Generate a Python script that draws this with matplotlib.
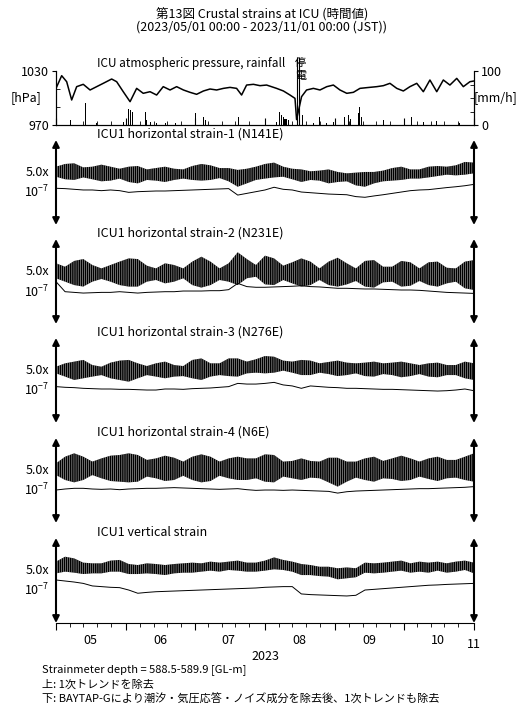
import matplotlib
matplotlib.use('Agg')
import matplotlib.pyplot as plt
import matplotlib.dates as mdates
import numpy as np

plt.rcParams['font.family'] = ['Noto Sans CJK JP', 'DejaVu Sans']
plt.rcParams['mathtext.fontset'] = 'custom'
plt.rcParams['mathtext.rm'] = 'Noto Sans CJK JP'
plt.rcParams['mathtext.default'] = 'rm'
plt.rcParams['hatch.linewidth'] = 0.3

START = np.datetime64('2023-05-01T00:00')
END = np.datetime64('2023-11-01T00:00')

# ---- atmospheric pressure [hPa] and rainfall [mm/h], days from 2023/05/01
pressure_days = [0, 2.5, 4.7, 6.9, 9.1, 12.0, 15.0, 17.9, 20.8, 24.5, 26.7, 29.6, 32.6, 35.5, 38.4,
                 41.4, 44.3, 47.2, 50.2, 53.1, 56.1, 59.0, 61.9, 64.9, 67.8, 70.7, 73.7, 76.6, 79.5,
                 81.7, 83.9, 86.9, 89.8, 92.7, 97.1, 100.1, 103.0, 105.2, 105.9, 108.1, 110.3, 113.3,
                 116.2, 119.2, 122.1, 125.0, 128.0, 130.9, 133.8, 136.8, 141.2, 144.1, 147.0, 150.0,
                 152.9, 155.8, 158.8, 161.7, 164.6, 167.6, 170.5, 173.4, 176.4, 179.3, 182.2, 184.0]
pressure_hpa = [1010.7, 1024.8, 1018.1, 997.8, 1012.6, 1015.2, 1008.9, 1012.6, 1016.3, 1021.1,
                1018.1, 1007.0, 995.9, 1010.7, 1005.2, 1007.0, 1003.3, 1012.6, 1008.9, 1012.6,
                1008.9, 1006.3, 1004.1, 1007.8, 1010.0, 1008.9, 1010.7, 1011.8, 1010.7, 1003.3,
                1014.4, 1015.2, 1013.7, 1014.4, 1010.7, 1007.8, 1003.3, 999.6, 976.0, 1001.5,
                1008.9, 1010.7, 1008.9, 1012.6, 1014.4, 1008.9, 1005.2, 1006.3, 1010.7, 1011.5,
                1012.6, 1013.7, 1016.3, 1010.7, 1007.8, 1012.6, 1016.3, 1007.0, 1020.0, 1007.0,
                1020.0, 1014.4, 1021.8, 1012.6, 1018.1, 1018.9]

rain_days = [6.5, 12.8, 13.2, 17.9, 29.6, 32.1, 32.9, 33.5, 39.2, 39.9, 41.4, 44.3, 48.0, 52.4,
             61.2, 64.8, 65.6, 80.3, 97.1, 98.3, 99.3, 100.1, 100.8, 101.5, 102.3, 106.2, 108.6,
             113.3, 116.2, 119.1, 122.1, 127.2, 128.7, 129.7, 133.1, 133.8, 134.5, 144.1, 156.5,
             161.7, 167.6, 177.8]
rain_mm = [9, 18, 40, 3, 6, 30, 28, 25, 25, 9, 6, 4, 4, 3, 23, 14, 9, 15, 6, 25, 18, 15, 12, 11, 9,
           22, 18, 3, 14, 4, 6, 15, 18, 12, 23, 34, 15, 9, 14, 6, 7, 3]

outage_days = [105.9, 107.1]

# ---- strain records (units of 1e-7), sampled every 4 days from 2023/05/01
strain_days = list(range(0, 185, 4))

s1_upper = [3.43, 3.59, 3.63, 3.39, 3.43, 3.55, 3.43, 3.31, 3.43, 3.47, 3.27, 3.35, 3.43, 3.31, 3.27, 3.47,
            3.59, 3.51, 3.35, 3.35, 3.24, 3.31, 3.43, 3.59, 3.67, 3.43, 3.31, 3.27, 3.16, 3.20, 3.27, 3.12,
            3.04, 3.08, 3.12, 3.12, 3.20, 3.35, 3.43, 3.27, 3.27, 3.43, 3.47, 3.43, 3.51, 3.71, 3.67]
s1_lower = [2.84, 2.69, 2.65, 2.80, 2.69, 2.57, 2.61, 2.73, 2.53, 2.45, 2.65, 2.61, 2.53, 2.65, 2.73, 2.65,
            2.61, 2.65, 2.76, 2.57, 2.25, 2.45, 2.65, 2.73, 2.80, 2.84, 2.69, 2.53, 2.65, 2.61, 2.45, 2.53,
            2.57, 2.33, 2.25, 2.45, 2.57, 2.61, 2.65, 2.73, 2.73, 2.80, 2.88, 2.96, 2.92, 2.96, 3.04]
s1_resid = [2.16, 2.14, 2.10, 2.06, 2.06, 2.02, 2.06, 2.02, 1.92, 1.96, 1.98, 2.00, 2.00, 2.02, 2.04, 2.06,
            2.08, 2.10, 2.12, 2.14, 1.76, 1.86, 1.96, 2.06, 2.22, 2.10, 2.06, 1.94, 1.90, 1.86, 1.82, 1.80,
            1.78, 1.67, 1.63, 1.71, 1.78, 1.86, 1.94, 2.02, 2.06, 2.08, 2.14, 2.20, 2.25, 2.31, 2.39]

s2_upper = [3.57, 3.37, 3.71, 3.82, 3.47, 3.27, 3.47, 3.67, 3.86, 3.82, 3.43, 3.27, 3.57, 3.47, 3.27, 3.67,
            3.96, 3.67, 3.27, 3.57, 4.22, 3.82, 3.47, 4.02, 3.86, 3.43, 3.63, 3.86, 3.67, 3.27, 3.67, 3.90,
            3.57, 3.27, 3.71, 3.76, 3.37, 3.37, 3.71, 3.63, 3.27, 3.63, 3.67, 3.31, 3.27, 3.67, 3.76]
s2_lower = [2.69, 2.49, 2.29, 2.20, 2.49, 2.65, 2.49, 2.29, 2.20, 2.20, 2.49, 2.59, 2.39, 2.49, 2.69, 2.29,
            2.14, 2.29, 2.59, 2.49, 2.29, 2.69, 2.78, 2.33, 2.29, 2.59, 2.39, 2.20, 2.29, 2.59, 2.29, 2.20,
            2.33, 2.53, 2.20, 2.14, 2.45, 2.49, 2.20, 2.25, 2.53, 2.29, 2.20, 2.39, 2.49, 2.10, 2.00]
s2_resid = [2.49, 1.90, 1.86, 1.82, 1.84, 1.86, 1.86, 1.90, 1.86, 1.82, 1.86, 1.88, 1.90, 1.90, 1.94, 1.94,
            1.94, 1.96, 1.96, 2.02, 2.39, 2.20, 2.16, 2.16, 2.18, 2.20, 2.22, 2.25, 2.20, 2.18, 2.14, 2.10,
            2.10, 2.08, 2.06, 2.06, 2.04, 2.02, 2.00, 2.00, 1.98, 1.94, 1.90, 1.86, 1.84, 1.82, 1.80]

s3_upper = [3.31, 3.51, 3.61, 3.71, 3.41, 3.31, 3.55, 3.67, 3.71, 3.51, 3.35, 3.51, 3.61, 3.41, 3.35, 3.71,
            3.80, 3.51, 3.51, 3.80, 3.80, 3.61, 3.75, 3.94, 3.90, 3.67, 3.61, 3.71, 3.67, 3.51, 3.59, 3.67,
            3.55, 3.51, 3.55, 3.61, 3.51, 3.55, 3.61, 3.51, 3.41, 3.51, 3.55, 3.41, 3.41, 3.61, 3.51]
s3_lower = [2.92, 2.73, 2.53, 2.63, 2.73, 2.82, 2.63, 2.53, 2.43, 2.63, 2.82, 2.73, 2.63, 2.73, 2.76, 2.63,
            2.53, 2.73, 2.82, 2.76, 2.73, 2.92, 2.96, 2.92, 2.96, 3.08, 2.96, 2.82, 2.82, 2.96, 2.88, 2.76,
            2.82, 2.92, 2.76, 2.73, 2.88, 2.82, 2.69, 2.76, 2.88, 2.73, 2.69, 2.82, 2.82, 2.63, 2.53]
s3_resid = [2.14, 2.10, 2.08, 2.04, 2.02, 2.00, 2.00, 1.98, 1.98, 1.96, 1.94, 1.94, 2.00, 2.00, 1.98, 2.02,
            2.04, 2.06, 2.10, 2.14, 2.33, 2.29, 2.29, 2.33, 2.39, 2.24, 2.18, 2.04, 2.18, 2.14, 2.10, 2.08,
            2.04, 2.04, 2.02, 2.00, 1.98, 1.98, 1.96, 1.94, 1.92, 1.90, 1.88, 1.90, 1.94, 2.00, 1.90]

s4_upper = [3.51, 3.90, 4.10, 3.90, 3.61, 3.80, 3.96, 4.00, 4.10, 4.00, 3.71, 3.80, 3.96, 3.84, 3.61, 3.90,
            4.04, 3.90, 3.61, 3.80, 3.90, 3.80, 3.80, 4.04, 4.00, 3.61, 3.65, 3.80, 3.65, 3.61, 3.84, 3.84,
            3.61, 3.61, 3.80, 3.90, 3.65, 3.80, 3.96, 3.80, 3.61, 3.80, 3.90, 3.71, 3.71, 3.90, 4.10]
s4_lower = [2.82, 2.53, 2.39, 2.53, 2.82, 2.63, 2.47, 2.43, 2.39, 2.43, 2.73, 2.63, 2.47, 2.53, 2.78, 2.53,
            2.39, 2.47, 2.78, 2.63, 2.53, 2.53, 2.63, 2.43, 2.39, 2.73, 2.63, 2.53, 2.67, 2.63, 2.39, 2.14,
            2.43, 2.67, 2.53, 2.43, 2.63, 2.59, 2.47, 2.53, 2.73, 2.59, 2.47, 2.63, 2.67, 2.53, 2.43]
s4_resid = [1.94, 2.00, 2.04, 2.04, 2.00, 1.98, 2.00, 1.96, 2.00, 2.02, 2.04, 2.04, 2.06, 2.08, 2.06, 2.04,
            2.02, 2.00, 1.98, 2.00, 2.02, 1.96, 1.92, 1.94, 1.94, 1.92, 1.94, 1.92, 1.90, 1.88, 1.86, 1.76,
            1.84, 1.88, 1.90, 1.92, 1.94, 1.96, 1.98, 2.00, 2.02, 2.02, 2.04, 2.06, 2.08, 2.10, 2.14]

s5_upper = [3.61, 3.90, 3.80, 3.55, 3.51, 3.51, 3.67, 3.71, 3.47, 3.41, 3.51, 3.47, 3.41, 3.47, 3.51, 3.55,
            3.51, 3.61, 3.55, 3.61, 3.67, 3.55, 3.55, 3.67, 3.86, 3.71, 3.61, 3.47, 3.41, 3.31, 3.31, 3.22,
            3.27, 3.22, 3.55, 3.51, 3.55, 3.61, 3.67, 3.51, 3.61, 3.55, 3.61, 3.51, 3.61, 3.67, 3.55]
s5_lower = [2.92, 3.02, 2.96, 2.88, 2.92, 2.92, 3.02, 3.02, 2.88, 2.88, 2.92, 2.88, 2.82, 2.92, 2.96, 2.96,
            3.02, 3.08, 3.02, 3.12, 3.08, 3.02, 3.02, 3.08, 3.16, 3.12, 3.02, 2.82, 2.82, 2.76, 2.73, 2.57,
            2.63, 2.69, 2.96, 2.92, 2.96, 3.02, 3.08, 2.96, 3.02, 2.96, 3.08, 2.96, 3.02, 3.12, 2.92]
s5_resid = [2.53, 2.47, 2.41, 2.33, 2.18, 2.14, 2.10, 2.08, 1.94, 1.75, 1.80, 1.84, 1.86, 1.88, 1.90, 1.92,
            1.94, 1.96, 1.98, 2.00, 2.02, 2.04, 2.06, 2.10, 2.12, 2.14, 2.14, 1.71, 1.67, 1.65, 1.63, 1.61,
            1.59, 1.63, 1.94, 1.98, 2.02, 2.06, 2.10, 2.14, 2.18, 2.22, 2.24, 2.27, 2.29, 2.31, 2.33]

strain_titles = ['ICU1 horizontal strain-1 (N141E)', 'ICU1 horizontal strain-2 (N231E)',
                 'ICU1 horizontal strain-3 (N276E)', 'ICU1 horizontal strain-4 (N6E)',
                 'ICU1 vertical strain']
strain_sets = [(s1_upper, s1_lower, s1_resid), (s2_upper, s2_lower, s2_resid),
               (s3_upper, s3_lower, s3_resid), (s4_upper, s4_lower, s4_resid),
               (s5_upper, s5_lower, s5_resid)]
scale_span = 5.0  # arrow length = 5.0x10^-7

month_labels = ['05', '06', '07', '08', '09', '10']
month_label_dates = ['2023-05-16', '2023-06-16', '2023-07-16', '2023-08-16', '2023-09-16', '2023-10-16']


def to_time(days):
    return START + (np.asarray(days) * 1440).astype(int).astype('timedelta64[m]')


W, H = 524, 707
fig = plt.figure(figsize=(W / 100, H / 100), dpi=100)


def px_axes(left, top, right, bottom):
    return fig.add_axes([left / W, 1 - bottom / H, (right - left) / W, (bottom - top) / H])


def month_ticks(ax, direction):
    ax.xaxis.set_major_locator(mdates.MonthLocator())
    ax.xaxis.set_minor_locator(mdates.DayLocator(bymonthday=[7, 13, 19, 25]))
    ax.tick_params(axis='x', which='major', direction=direction, length=5, width=0.8)
    ax.tick_params(axis='x', which='minor', direction=direction, length=3, width=0.6)


fig.text(0.5, 1 - 15 / H, '第13図 Crustal strains at ICU (時間値)', ha='center', va='center', fontsize=9)
fig.text(0.5, 1 - 27 / H, '(2023/05/01 00:00 - 2023/11/01 00:00 (JST))', ha='center', va='center',
         fontsize=9)

# ---- pressure / rainfall panel
axp = px_axes(56, 71, 474, 125)
axr = axp.twinx()
axr.bar(to_time(rain_days), rain_mm, width=0.45, color='black', linewidth=0)
axr.set_ylim(0, 100)
axp.plot(to_time(pressure_days), pressure_hpa, color='black', lw=1.1, zorder=3)
axp.set_zorder(axr.get_zorder() + 1)
axp.patch.set_visible(False)
axp.set_ylim(970, 1030)
axp.set_xlim(START, END)
axp.vlines(to_time(outage_days), 970, 1046, color='black', lw=0.8, clip_on=False)
for ax in (axp, axr):
    ax.spines['top'].set_visible(False)
    ax.spines[['left', 'right', 'bottom']].set_linewidth(0.8)
axp.set_yticks([970, 1030])
axp.set_yticks([990, 1010], minor=True)
axp.tick_params(axis='y', which='major', direction='out', length=3, labelsize=9, pad=2)
axp.tick_params(axis='y', which='minor', direction='in', length=3)
axr.set_yticks([0, 100])
axr.set_yticks([25, 50, 75], minor=True)
axr.tick_params(axis='y', which='major', direction='out', length=3, labelsize=9, pad=2)
axr.tick_params(axis='y', which='minor', direction='in', length=3)
month_ticks(axp, 'in')
axp.tick_params(axis='x', labelbottom=False)
axp.text(-0.035, 0.5, '[hPa]', transform=axp.transAxes, ha='right', va='center', fontsize=9)
axr.text(1.0, 0.5, '[mm/h]', transform=axr.transAxes, ha='left', va='center', fontsize=9)
axp.text(0.098, 1 + 8 / 54, 'ICU atmospheric pressure, rainfall', transform=axp.transAxes,
         ha='left', va='center', fontsize=8.5)
outage_mid = to_time([np.mean(outage_days) + 1.2])[0]
axp.annotate('停', xy=(outage_mid, 1), xycoords=('data', 'axes fraction'), xytext=(0, 6),
             textcoords='offset points', ha='center', va='center', fontsize=8)
axp.annotate('電', xy=(outage_mid, 1), xycoords=('data', 'axes fraction'), xytext=(0, -3.5),
             textcoords='offset points', ha='center', va='center', fontsize=8)

# ---- strain panels
tops = [140, 239, 338, 438, 538]
t_strain = to_time(strain_days)
for i, (top, title, (upper, lower, resid)) in enumerate(zip(tops, strain_titles, strain_sets)):
    ax = px_axes(56, top, 474, top + 85)
    ax.fill_between(t_strain, lower, upper, facecolor='black', edgecolor='white',
                    hatch='||||||||', lw=0)
    ax.plot(t_strain, resid, color='black', lw=0.7)
    ax.set_ylim(0, scale_span)
    ax.set_xlim(START, END)
    for side in ('top', 'left', 'right', 'bottom'):
        ax.spines[side].set_visible(False)
    ax.set_yticks([])
    for xa in (0, 1):
        ax.annotate('', xy=(xa, 1), xytext=(xa, 0), xycoords='axes fraction',
                    arrowprops=dict(arrowstyle='<|-|>', color='black', lw=1.5,
                                    mutation_scale=10, shrinkA=0, shrinkB=0))
    ax.text(0.098, 1 + 5.5 / 85, title, transform=ax.transAxes, ha='left', va='center', fontsize=9)
    ax.text(-0.017, 0.5 + 10 / 85, '5.0x', transform=ax.transAxes, ha='right', va='center', fontsize=9)
    ax.text(-0.017, 0.5 - 10 / 85, '10$^{-7}$', transform=ax.transAxes, ha='right', va='center',
            fontsize=9)
    if i < len(tops) - 1:
        ax.set_xticks([])
    else:
        ax.spines['bottom'].set_visible(True)
        ax.spines['bottom'].set_linewidth(0.8)
        month_ticks(ax, 'out')
        ax.xaxis.set_major_formatter(
            plt.FuncFormatter(lambda x, pos: '11' if mdates.num2date(x).month == 11 else ''))
        ax.tick_params(axis='x', which='major', labelsize=9, pad=6)
        for lab, d in zip(month_labels, month_label_dates):
            ax.text(np.datetime64(d), -0.2, lab, transform=ax.get_xaxis_transform(),
                    ha='center', va='center', fontsize=9)
        ax.text(0.5, -0.4, '2023', transform=ax.transAxes, ha='center', va='center', fontsize=9)

fig.text(42 / W, 1 - 670 / H, 'Strainmeter depth = 588.5-589.9 [GL-m]', ha='left', va='center', fontsize=8)
fig.text(42 / W, 1 - 685 / H, '上: 1次トレンドを除去', ha='left', va='center', fontsize=8)
fig.text(42 / W, 1 - 699 / H, '下: BAYTAP-Gにより潮汐・気圧応答・ノイズ成分を除去後、1次トレンドも除去',
         ha='left', va='center', fontsize=8)

fig.savefig('out.png', dpi=100)
